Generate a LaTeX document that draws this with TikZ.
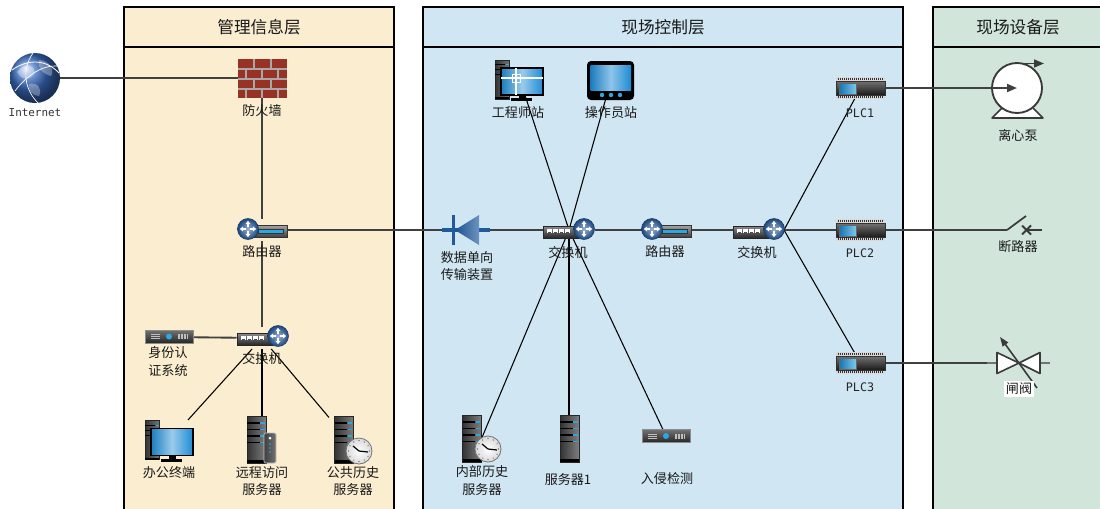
\documentclass[tikz,border=0pt]{standalone}
\usepackage{fontspec}
\newfontfamily\cjk{Noto Sans CJK SC}
\newfontfamily\monof{DejaVu Sans Mono}
\usetikzlibrary{arrows.meta}

\definecolor{mgmt}{HTML}{FBEDD0}
\definecolor{ctrl}{HTML}{D0E6F2}
\definecolor{field}{HTML}{D1E5DA}
\definecolor{wiregray}{HTML}{404040}
\definecolor{netblue}{HTML}{1E4F8C}
\definecolor{cyanled}{HTML}{2AA8E2}
\definecolor{brick}{HTML}{973224}
\definecolor{mortar}{HTML}{A8A8A8}
\definecolor{screen}{HTML}{1E8BD4}
\definecolor{diodeblue}{HTML}{1F5A9E}
\definecolor{pumpline}{HTML}{3A3A3A}
\definecolor{globeblue}{HTML}{3A6CC0}

% round blue router / switch badge
\newcommand\netball{%
  \shade[inner color=netblue!45!white, outer color=netblue!90!black, draw=netblue!70!black, line width=0.4pt] (0,0) circle (10.5);
  \foreach \a in {0,90,180,270}{\fill[white, rotate=\a] (1.8,-0.9) -- (4.8,-0.9) -- (4.8,-2.6) -- (8.2,0) -- (4.8,2.6) -- (4.8,0.9) -- (1.8,0.9) -- cycle;}%
}

\tikzset{
  sz/.style 2 args={minimum width=#1*0.75pt, minimum height=#2*0.75pt},
  dev/.style={inner sep=0pt, outer sep=0pt, draw=none, shape=rectangle},
  wire/.style={draw=wiregray, line width=1.4pt},
  link/.style={draw=black, line width=0.8pt},
  lbl/.style={font=\cjk\fontsize{9.8}{12.8}\selectfont, align=center, text=black!90, inner sep=0pt},
  hdr/.style={font=\cjk\fontsize{12.5}{14}\selectfont, text=black!90, inner sep=0pt},
  tag/.style={font=\monof\fontsize{8.2}{10}\selectfont, text=black!80, inner sep=0pt},
  plctag/.style={font=\monof\fontsize{8.8}{10}\selectfont, text=black!85, inner sep=0pt},
  % globe
  pics/globe/.style={code={
    \shade[ball color=globeblue] (0,0) circle (25);
    \fill[white, opacity=0.35] (-18,-6) .. controls (-10,-16) and (-2,-14) .. (0,-6) .. controls (-4,2) and (-12,4) .. (-18,-6);
    \fill[white, opacity=0.3] (4,-18) .. controls (14,-18) and (20,-8) .. (16,-2) .. controls (8,-4) and (2,-10) .. (4,-18);
    \fill[white, opacity=0.3] (-6,6) .. controls (2,4) and (8,10) .. (4,18) .. controls (-2,18) and (-8,12) .. (-6,6);
    \draw[white, line width=0.6pt] (-23,-8) .. controls (-6,-20) and (12,-18) .. (24,-5);
    \draw[white, line width=0.5pt] (-20,13) .. controls (-8,-3) and (8,-13) .. (22,-12);
    \draw[white, line width=0.5pt] (-2,-25) .. controls (-14,-8) and (-10,12) .. (3,25);
  }},
  % brick wall
  pics/firewall/.style={code={
    \fill[brick] (-24,-19) rectangle (25,20);
    \foreach \yy in {-9,1,11}{\draw[mortar, line width=1.2pt] (-24,\yy) -- (25,\yy);}
    \foreach \yy/\xx in {-19/-8,-19/9,1/-8,1/9}{\draw[mortar, line width=1.2pt] (\xx,\yy) -- (\xx,\yy+10);}
    \foreach \yy/\xx in {-9/-16,-9/0,-9/16,11/-16,11/0,11/16}{\draw[mortar, line width=1.2pt] (\xx,\yy) -- (\xx,\yy+9);}
  }},
  % router: badge at origin, box to the right
  pics/router/.style={code={
    \shade[top color=black!35, bottom color=black!75, draw=black!80, line width=0.4pt] (5,-4) rectangle (39,8);
    \fill[cyanled, draw=black!80, line width=0.3pt] (10,0.5) rectangle (35,4);
    \netball
  }},
  % switch: badge at origin, box to the left
  pics/switch/.style={code={
    \shade[top color=black!45, bottom color=black!85, draw=black!85, line width=0.4pt] (-41,-3) rectangle (-6,9);
    \foreach \px in {-37,-31,-25,-19}{\fill[white] (\px,-0.5) rectangle ++(5,4.5); \fill[black!70] (\px+1,2.5) rectangle ++(3,1.5);}
    \netball
  }},
  % tower server
  pics/tower/.style={code={
    \shade[left color=black!80, right color=black!50, draw=black!85, line width=0.3pt] (-9.5,-23.5) rectangle (9.5,23.5);
    \foreach \yy in {-16.5,-10,-3.5,3}{\draw[black, line width=0.9pt] (-9.5,\yy) -- (3,\yy); \draw[cyanled, line width=0.9pt] (3.5,\yy) -- (8,\yy);}
    \fill[black] (-9.5,20.5) rectangle (9.5,23.5);
  }},
  % small companion unit
  pics/sideunit/.style={code={
    \shade[left color=black!75, right color=black!55, draw=black!25, line width=0.6pt, rounded corners=1pt] (-6,-15) rectangle (6,15);
    \fill[white] (0,-10) circle (1.5);
    \foreach \yy in {-4,0,4}{\fill[cyanled] (0,\yy) circle (0.8);}
  }},
  % clock
  pics/clock/.style={code={
    \shade[inner color=white, outer color=black!15, draw=black!55, line width=0.6pt] (0,0) circle (13);
    \foreach \a in {0,30,...,330}{\fill[black!70] (\a:10.5) circle (0.6);}
    \draw[black, line width=0.9pt] (0,0) -- (-6,-5);
    \draw[black, line width=0.9pt] (0,0) -- (9,1);
  }},
  % rack appliance
  pics/rackbox/.style={code={
    \shade[top color=black!55, bottom color=black!85, draw=black!45, line width=0.4pt] (-24,-6.5) rectangle (24,6.5);
    \fill[cyanled] (0,0) circle (3);
    \foreach \yy in {-2,0,2}{\draw[black!25, line width=0.5pt] (-18,\yy) -- (-9,\yy);}
    \foreach \xx in {9,10.5,...,18}{\draw[black!25, line width=0.5pt] (\xx,-2.5) -- (\xx,2.5);}
  }},
  % PLC module
  pics/plc/.style={code={
    \fill[black!15] (-24.5,-11) rectangle (24.5,11);
    \foreach \xx in {-22.5,-20.5,...,22}{\fill[black!80] (\xx,-10) rectangle ++(1,2); \fill[black!80] (\xx,8) rectangle ++(1,2);}
    \shade[top color=black!55, bottom color=black!90, draw=black!80, line width=0.3pt] (-24.5,-7) rectangle (24.5,7);
    \shade[left color=screen!85!black, right color=cyanled!60!white, draw=black!60, line width=0.3pt] (-21,-5) rectangle (-4,6);
  }},
  % desktop workstation: monitor at origin, tower behind
  pics/monitor/.style={code={
    \shade[left color=black!80, right color=black!55, draw=black!85, line width=0.3pt] (-27,-21.5) rectangle (-13,17.5);
    \foreach \yy in {-17,-12,-7}{\draw[black, line width=0.7pt] (-27,\yy) -- (-17,\yy); \draw[cyanled, line width=0.7pt] (-16.5,\yy) -- (-13,\yy);}
    \fill[black] (-27,15.5) rectangle (-13,17.5);
    \fill[black] (-3.5,13.5) rectangle (4,17);
    \fill[black] (-11,16.5) rectangle (10,19.5);
    \shade[left color=screen!90!black, right color=screen, middle color=screen!45!white, draw=black, line width=1.1pt] (-21,-13.5) rectangle (21,13.5);
  }},
  % tablet panel
  pics/tablet/.style={code={
    \fill[black, rounded corners=3pt] (-23.5,-19.5) rectangle (23.5,19.5);
    \shade[left color=screen!90!black, right color=screen, middle color=screen!50!white] (-20,-15.5) rectangle (20.5,9.5);
    \foreach \xx in {-8.5,0.5,9.5}{\fill[cyanled] (\xx,14.5) circle (2.2);}
  }},
  % unidirectional gateway symbol
  pics/diode/.style={code={
    \draw[diodeblue, line width=3pt] (-23,0) -- (25,0);
    \fill[diodeblue] (-13,-15) rectangle (-10,15);
    \shade[left color=diodeblue!90!black, right color=diodeblue!65!white] (-10,0) -- (14,-15) -- (14,15) -- cycle;
  }},
}

\begin{document}
\begin{tikzpicture}[x=0.75pt,y=-0.75pt]
\useasboundingbox (0,0) rectangle (1100,508);
\clip (0,0) rectangle (1100,508);
\fill[white] (0,0) rectangle (1100,508);

% ---- layer panels ----
\path[fill=mgmt, draw=black, line width=1.5pt] (124,7) rectangle (394,525);
\draw[line width=1.5pt] (124,47) -- (394,47);
\path[fill=ctrl, draw=black, line width=1.5pt] (423,7) rectangle (903,525);
\draw[line width=1.5pt] (423,47) -- (903,47);
\path[fill=field, draw=black, line width=1.5pt] (933,7) rectangle (1115,525);
\draw[line width=1.5pt] (933,47) -- (1115,47);

\node[hdr] (hmgmt) at (259,27) {管理信息层};
\node[hdr] (hctrl) at (663,27) {现场控制层};
\node[hdr] (hfield) at (1018,27) {现场设备层};

% ---- device nodes ----
\node[dev, sz={50}{50}] (inet) at (35,78) {};
\node[dev, sz={49}{39}] (fw) at (262,78) {};
\node[dev, sz={50}{22}] (r1) at (262,230) {};
\node[dev, sz={51}{22}] (sw1) at (262,338) {};
\node[dev, sz={48}{13}] (auth) at (169,337) {};
\node[dev, sz={50}{42}] (pc1) at (169,441) {};
\node[dev, sz={30}{47}] (remote) at (262,440) {};
\node[dev, sz={38}{47}] (public) at (348,440) {};

\node[dev, sz={50}{40}] (eng) at (520,80) {};
\node[dev, sz={47}{39}] (op) at (611,80) {};
\node[dev, sz={48}{30}] (gw) at (466,230) {};
\node[dev, sz={52}{22}] (sw2) at (569,230) {};
\node[dev, sz={49}{22}] (r2) at (666,230) {};
\node[dev, sz={51}{22}] (sw3) at (758.5,230) {};
\node[dev, sz={40}{50}] (hist) at (478,447) {};
\node[dev, sz={19}{47}] (srv1) at (569,438) {};
\node[dev, sz={48}{14}] (ids) at (666,436) {};
\node[dev, sz={49}{22}] (plc1) at (860.5,88) {};
\node[dev, sz={49}{22}] (plc2) at (860.5,230) {};
\node[dev, sz={49}{22}] (plc3) at (860.5,363) {};

\node[dev, shape=circle, sz={50}{50}] (pump) at (1017,88) {};
\node[dev, sz={35}{32}] (brk) at (1024.5,230) {};
\node[dev, sz={63}{50}] (vlv) at (1018.5,363) {};

% ---- connectors ----
\draw[wire] (inet) -- (fw);
\draw[wire] (fw) -- (r1);
\draw[wire] (r1) -- (sw1);
\draw[wire] (auth) -- (sw1);
\draw[link] (sw1) -- (pc1);
\draw[link] (sw1) -- (remote);
\draw[link] (sw1) -- (public);
\draw[wire] (r1) -- (gw);
\draw[wire] (gw) -- (sw2);
\draw[wire] (sw2) -- (r2);
\draw[wire] (r2) -- (sw3);
\draw[link] (sw2.center) -- (eng.center);
\draw[link] (sw2.center) -- (op.center);
\draw[link] (sw2.center) -- (hist.center);
\draw[link] (sw2.center) -- (srv1.center);
\draw[link] (sw2.center) -- (ids.center);
\draw[link] (sw3.east) -- (plc1.center);
\draw[wire] (sw3) -- (plc2);
\draw[link] (sw3.east) -- (plc3.center);
\draw[wire] (plc2) -- (brk.west);
\draw[wire] (plc3) -- (vlv.west);

% ---- icons ----
\pic at (35,78) {globe};
\pic at (262,78) {firewall};
\pic at (248,229) {router};
\pic at (278,336) {switch};
\pic at (169,336.5) {rackbox};
\pic at (172,442) {monitor};
\pic at (256.5,439.5) {tower};
\pic at (270,448) {sideunit};
\pic at (344,439.5) {tower};
\pic at (359,451) {clock};

\pic at (522,81.5) {monitor};
\draw[white, line width=0.8pt] (501,78) -- (543,78) (516,68) -- (516,95);
\draw[white, line width=0.6pt] (512,74) rectangle (520,82);
\pic at (610.5,80.5) {tablet};
\pic at (465,230) {diode};
\pic at (584,229) {switch};
\pic at (652,229) {router};
\pic at (774,229) {switch};
\pic at (472,438.5) {tower};
\pic at (488,449) {clock};
\pic at (569.5,438.5) {tower};
\pic at (666,436) {rackbox};
\pic at (860.5,88) {plc};
\pic at (860.5,230) {plc};
\pic at (860.5,363) {plc};

% ---- field equipment symbols ----
% centrifugal pump
\filldraw[fill=white, draw=pumpline, line width=1.2pt, line join=round] (1002,108) -- (992,118) -- (1043,118) -- (1033,108);
\filldraw[fill=white, draw=pumpline, line width=1.4pt] (pump.center) circle (25);
\draw[pumpline, line width=1.2pt, -{Triangle[length=7.5pt,width=6pt]}] (1017,63.5) -- (1044,63.5);
\draw[wire, -{Triangle[length=7.5pt,width=6pt]}] (plc1) -- (pump.center);
% circuit breaker
\draw[pumpline, line width=1.3pt] (brk.west) -- (1026,216);
\draw[pumpline, line width=1.4pt] (1022,225.5) -- (1031,234.5) (1022,234.5) -- (1031,225.5);
\draw[pumpline, line width=1.3pt] (1026.5,230) -- (brk.east);
% gate valve
\draw[black!55, line width=1.2pt] (vlv.west) -- (997,363) (1040,363) -- (vlv.east);
\filldraw[fill=white, draw=pumpline, line width=1.2pt, line join=round] (997,352.5) -- (1019,363) -- (997,373.5) -- cycle;
\filldraw[fill=white, draw=pumpline, line width=1.2pt, line join=round] (1040,352.5) -- (1019,363) -- (1040,373.5) -- cycle;
\draw[pumpline, line width=1.2pt, {Triangle[length=7pt,width=5pt]}-] (1000,337) -- (1037,388);

% ---- labels ----
\node[tag] (linet) at (35,113) {Internet};
\node[lbl] (lfw) at (262,111) {防火墙};
\node[lbl] (lr1) at (262,252) {路由器};
\node[lbl] (lsw1) at (262,358) {交换机};
\node[lbl] (lauth) at (168,361.5) {身份认\\证系统};
\node[lbl] (lpc1) at (169,473) {办公终端};
\node[lbl] (lremote) at (262,481.5) {远程访问\\服务器};
\node[lbl] (lpublic) at (353,481.5) {公共历史\\服务器};

\node[lbl] (leng) at (518,113) {工程师站};
\node[lbl] (lop) at (611,113) {操作员站};
\node[lbl] (lgw) at (467,266) {数据单向\\传输装置};
\node[lbl] (lsw2) at (568,252) {交换机};
\node[lbl] (lr2) at (665,252) {路由器};
\node[lbl] (lsw3) at (757,252) {交换机};
\node[lbl] (lhist) at (482,480.5) {内部历史\\服务器};
\node[lbl] (lsrv1) at (568,480) {服务器1};
\node[lbl] (lids) at (667,478) {入侵检测};
\node[plctag] (lplc1) at (860,113) {PLC1};
\node[plctag] (lplc2) at (860,253) {PLC2};
\node[plctag] (lplc3) at (860,387) {PLC3};

\node[lbl] (lpump) at (1018,135) {离心泵};
\node[lbl] (lbrk) at (1018,247) {断路器};
\node[lbl, fill=white, inner sep=1.5pt] (lvlv) at (1019,389) {闸阀};
\end{tikzpicture}
\end{document}
